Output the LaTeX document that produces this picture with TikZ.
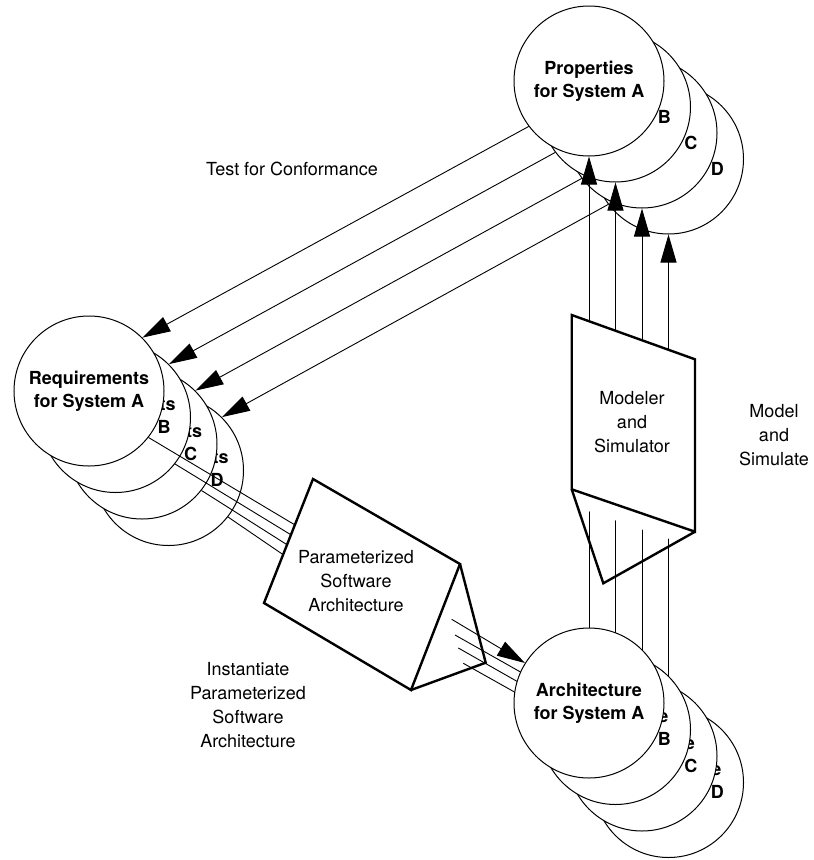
\documentclass[tikz,border=0pt]{standalone}
\usepackage{fontspec}
\setmainfont{TeX Gyre Heros}
\usetikzlibrary{positioning, calc, arrows.meta}
\pgfdeclarelayer{front}
\pgfsetlayers{main,front}

\tikzset{
  sysnode/.style={circle, draw, line width=1pt, fill=white, minimum size=150pt, inner sep=0pt,
    align=center, font=\bfseries\fontsize{18}{23}\selectfont},
  note/.style={align=center, font=\fontsize{18}{24}\selectfont},
  flow/.style={line width=0.9pt, -{Triangle[length=28pt,width=16pt]}},
  plain/.style={line width=0.9pt},
  solid3d/.style={line width=2.4pt},
}

\begin{document}
\begin{tikzpicture}[x=1pt, y=-1pt]
\useasboundingbox (0,0) rectangle (814,860);

% properties, back to front
\node[sysnode] (pD) at (668.5,159) {Properties\\for System D};
\node[sysnode] (pC) at (642,133)   {Properties\\for System C};
\node[sysnode] (pB) at (615.5,107) {Properties\\for System B};
\node[sysnode] (pA) at (589,81)    {Properties\\for System A};

% requirements
\node[sysnode] (rD) at (168.5,470.5) {Requirements\\for System D};
\node[sysnode] (rC) at (142,444)     {Requirements\\for System C};
\node[sysnode] (rB) at (115.5,417.5) {Requirements\\for System B};
\node[sysnode] (rA) at (89,391)      {Requirements\\for System A};

\begin{pgfonlayer}{front}
% architectures
\node[sysnode] (aD) at (668.5,782.5) {Architecture\\for System D};
\node[sysnode] (aC) at (642,756)     {Architecture\\for System C};
\node[sysnode] (aB) at (615.5,729.5) {Architecture\\for System B};
\node[sysnode] (aA) at (589,703)     {Architecture\\for System A};

% modeler and simulator
\coordinate (mtl)  at (571.7,315);
\coordinate (mtr)  at (695,359.3);
\coordinate (mbr)  at (695,531.7);
\coordinate (mbl)  at (571.7,489.3);
\coordinate (mtip) at (603.3,583.3);
\fill[white] (mtl) -- (mtr) -- ($(mbr)+(0,16)$) -- ($(mbl)+(0,16)$) -- cycle;
\draw[solid3d] (mtl) -- (mtr) -- (mbr) -- (mbl) -- cycle;
\draw[solid3d] (mbl) -- (mtip) -- (mbr);
\node[note] (msim) at (632,422) {Modeler\\and\\Simulator};
\end{pgfonlayer}

% parameterized software architecture
\coordinate (qtl)  at (313,479);
\coordinate (qtr)  at (460,564);
\coordinate (qbr)  at (411,690);
\coordinate (qbl)  at (264,603);
\coordinate (qfar) at (485.7,662.7);
\draw[solid3d] (qtl) -- (qtr) -- (qbr) -- (qbl) -- cycle;
\draw[solid3d] (qtr) -- (qfar) -- (qbr);
\node[note] (psa) at (356,581) {Parameterized\\Software\\Architecture};

\coordinate (qinA) at ($(qtl)!0.37!(qbl)$);
\coordinate (qinB) at ($(qtl)!0.45!(qbl)$);
\coordinate (qinC) at ($(qtl)!0.53!(qbl)$);
\coordinate (qinD) at ($(qtl)!0.61!(qbl)$);
\coordinate (qoutA) at (451.7,619.3);
\coordinate (qoutB) at (455,635);
\coordinate (qoutC) at (458.3,648);
\coordinate (qoutD) at (463.3,663.3);

% test for conformance
\path[flow]
    (pA.217) edge (rA.45)
    (pB.217) edge (rB.45)
    (pC.217) edge (rC.45)
    (pD.217) edge (rD.45);

% instantiate
\path[plain]
    (rA.-38) edge (qinA)
    (rB.-38) edge (qinB)
    (rC.-38) edge (qinC)
    (rD.-38) edge (qinD);
\path[flow]
    (qoutA) edge (aA.148)
    (qoutB) edge (aB.148)
    (qoutC) edge (aC.148)
    (qoutD) edge (aD.148);

% model and simulate
\path[flow]
    (aA.north) edge (pA.south)
    (aB.north) edge (pB.south)
    (aC.north) edge (pC.south)
    (aD.north) edge (pD.south);

\node[note] (tfc)  at (292,169) {Test for Conformance};
\node[note] (mas)  at (774,435) {Model\\and\\Simulate};
\node[note] (ipsa) at (248,705) {Instantiate\\Parameterized\\Software\\Architecture};
\end{tikzpicture}
\end{document}
